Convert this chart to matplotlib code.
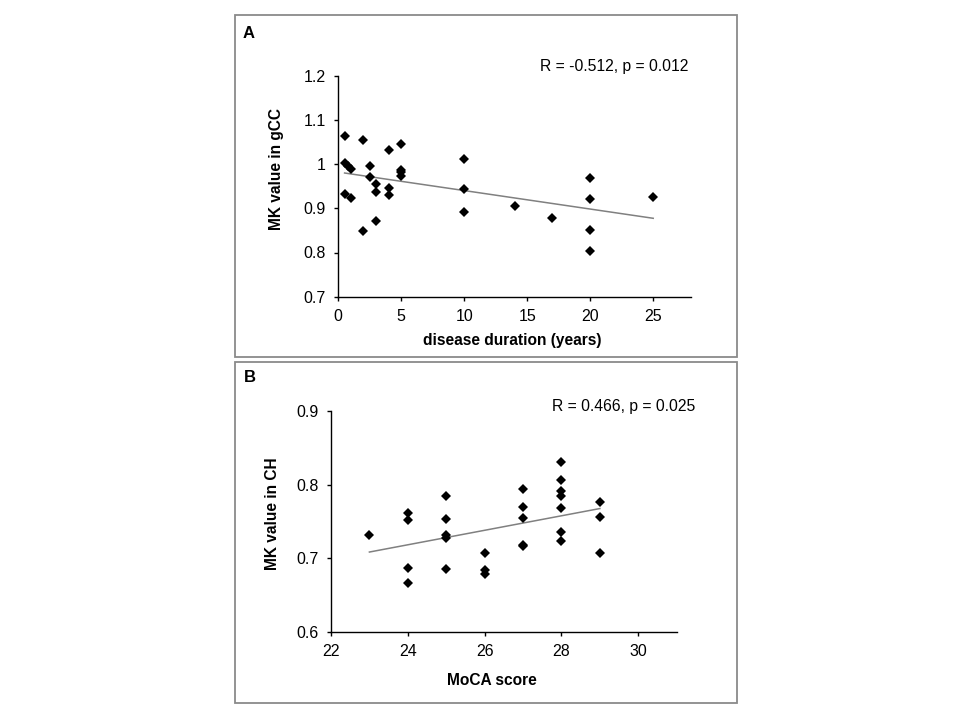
import numpy as np
import matplotlib
matplotlib.use("Agg")
import matplotlib.pyplot as plt
from matplotlib.patches import Rectangle

plt.rcParams['font.family'] = ['Liberation Sans', 'DejaVu Sans']

# panel A: disease duration vs MK in gCC
duration = [0.5, 0.5, 0.75, 1, 0.5, 1, 2, 2, 2.5, 2.5, 3, 3, 3, 4, 4, 4,
            5, 5, 5, 5, 10, 10, 10, 14, 17, 20, 20, 20, 20, 25]
mk_gcc = [1.064, 1.003, 0.996, 0.990, 0.932, 0.924, 1.055, 0.849, 0.996, 0.970,
          0.954, 0.938, 0.871, 1.031, 0.946, 0.929, 1.045, 0.987, 0.981, 0.974,
          1.012, 0.943, 0.892, 0.906, 0.879, 0.968, 0.922, 0.852, 0.803, 0.925]
stats_a = "R = -0.512, p = 0.012"

# panel B: MoCA score vs MK in CH
moca = [23, 24, 24, 24, 24, 25, 25, 25, 25, 25, 26, 26, 26, 27, 27, 27, 27, 27,
        28, 28, 28, 28, 28, 28, 28, 29, 29, 29]
mk_ch = [0.731, 0.762, 0.752, 0.686, 0.666, 0.784, 0.753, 0.731, 0.728, 0.685,
         0.707, 0.684, 0.679, 0.794, 0.770, 0.754, 0.718, 0.716,
         0.831, 0.806, 0.791, 0.784, 0.768, 0.736, 0.723, 0.776, 0.756, 0.707]
stats_b = "R = 0.466, p = 0.025"

W, H = 960, 720
fig = plt.figure(figsize=(9.6, 7.2), dpi=100)


def px_rect(x0, y0, x1, y1):
    # pixel box -> figure fraction [left, bottom, width, height]
    return [x0 / W, 1 - y1 / H, (x1 - x0) / W, (y1 - y0) / H]


def scatter_panel(rect, x, y, xlim, xticks, ylim, yticks, xlabel, ylabel,
                  ylab_fmt, xlab_pos, ylab_pos):
    ax = fig.add_axes(rect)
    ax.plot(x, y, linestyle='none', marker='D', markersize=5.3,
            color='black', markeredgewidth=0, zorder=3)
    k, b = np.polyfit(x, y, 1)
    xs = np.array([min(x), max(x)])
    ax.plot(xs, k * xs + b, color='#808080', linewidth=1.1, zorder=2)
    ax.set_xlim(*xlim)
    ax.set_ylim(*ylim)
    ax.set_xticks(xticks)
    ax.set_yticks(yticks)
    ax.set_yticklabels([ylab_fmt(v) for v in yticks])
    for s in ['top', 'right']:
        ax.spines[s].set_visible(False)
    for s in ['left', 'bottom']:
        ax.spines[s].set_linewidth(1.0)
    ax.tick_params(direction='out', length=3, width=1, labelsize=11.5, pad=6)
    ax.set_xlabel(xlabel, fontsize=11.2, fontweight='bold', va='center')
    ax.set_ylabel(ylabel, fontsize=11.2, fontweight='bold', va='center')
    ax.xaxis.set_label_coords(*xlab_pos)
    ax.yaxis.set_label_coords(*ylab_pos)
    return ax


def fmt_a(v):
    return "1" if abs(v - 1) < 1e-9 else "%.1f" % v


# frames around the panels
for box in [(235, 15, 737, 357), (235, 362, 737, 703)]:
    x0, y0, x1, y1 = box
    fig.patches.append(Rectangle((x0 / W, 1 - y1 / H), (x1 - x0) / W, (y1 - y0) / H,
                                 transform=fig.transFigure, fill=False,
                                 edgecolor='#8a8a8a', linewidth=1.3))

ax_a = scatter_panel(px_rect(338.3, 75.7, 691, 296.7), duration, mk_gcc,
                     (0, 28), [0, 5, 10, 15, 20, 25], (0.7, 1.2),
                     [0.7, 0.8, 0.9, 1.0, 1.1, 1.2],
                     "disease duration (years)", "MK value in gCC", fmt_a,
                     (0.494, -0.196), (-0.175, 0.579))
ax_b = scatter_panel(px_rect(331, 411, 676.7, 631.7), moca, mk_ch,
                     (22, 31), [22, 24, 26, 28, 30], (0.6, 0.9),
                     [0.6, 0.7, 0.8, 0.9],
                     "MoCA score", "MK value in CH", lambda v: "%.1f" % v,
                     (0.466, -0.222), (-0.168, 0.533))

fig.text(688 / W, 1 - 66 / H, stats_a, ha='right', va='center', fontsize=11.3)
fig.text(695 / W, 1 - 407 / H, stats_b, ha='right', va='center', fontsize=11.3)
fig.text(243 / W, 1 - 34 / H, "A", ha='left', va='center', fontsize=12, fontweight='bold')
fig.text(244 / W, 1 - 377 / H, "B", ha='left', va='center', fontsize=12, fontweight='bold')

fig.savefig("out.png", dpi=100)
